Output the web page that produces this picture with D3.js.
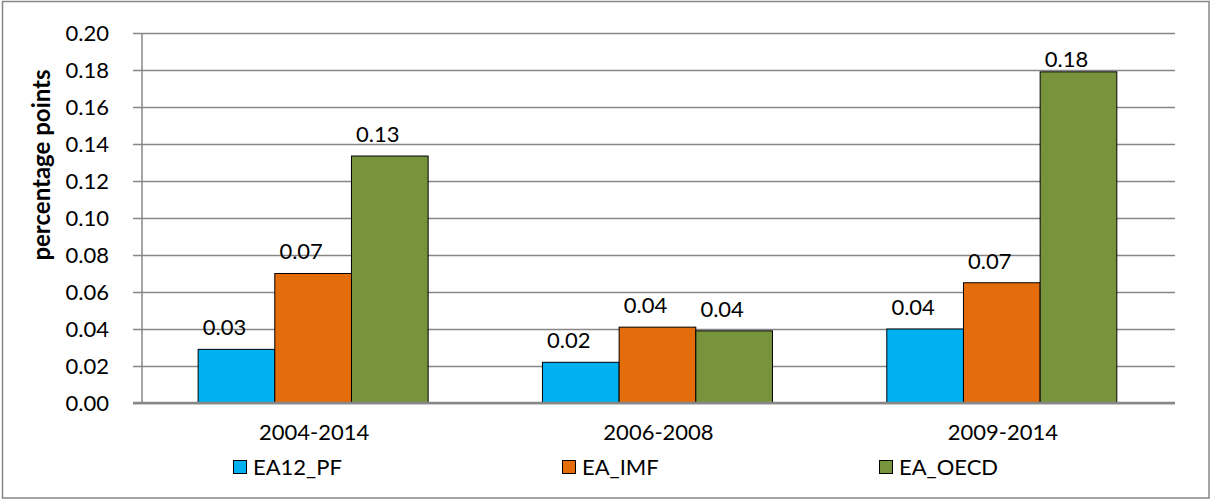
<!DOCTYPE html>
<html>
<head>
<meta charset="utf-8">
<script src="https://cdn.jsdelivr.net/npm/d3@7"></script>
<style>
  html, body { margin: 0; padding: 0; background: #fff; }
  svg { display: block; }
  text { font-family: Lato, "Open Sans", sans-serif; fill: #000; }
</style>
</head>
<body>
<svg id="chart" width="1212" height="500"></svg>
<script>
// ---- data ----
const categories = ["2004-2014", "2006-2008", "2009-2014"];
const seriesNames = ["EA12_PF", "EA_IMF", "EA_OECD"];
const EA12_PF = [0.029, 0.022, 0.040];
const EA_IMF  = [0.070, 0.041, 0.065];
const EA_OECD = [0.1335, 0.039, 0.179];
const dataLabels = [
  ["0.03", "0.02", "0.04"],
  ["0.07", "0.04", "0.07"],
  ["0.13", "0.04", "0.18"]
];
const yTicks = [0, 0.02, 0.04, 0.06, 0.08, 0.10, 0.12, 0.14, 0.16, 0.18, 0.20];
const colors = ["#00B0F0", "#E46C0A", "#77933C"];
const yTitle = "percentage points";

const seriesValues = [EA12_PF, EA_IMF, EA_OECD];

// ---- layout ----
const svg = d3.select("#chart");
const plot = { left: 142, right: 1175, top: 33, bottom: 403 };
const gridColor = "#878787";

svg.append("rect")
  .attr("x", 2.5).attr("y", 1.5)
  .attr("width", 1206.5).attr("height", 496.5)
  .attr("fill", "#fff").attr("stroke", gridColor).attr("stroke-width", 1.5);

const y = d3.scaleLinear().domain([0, 0.20]).range([plot.bottom, plot.top]);
const x0 = d3.scaleBand().domain(categories).range([plot.left, plot.right]).padding(0);
const bw = x0.bandwidth();
const x1 = d3.scaleBand().domain(seriesNames).range([bw * 0.163, bw * 0.831]).padding(0);

// gridlines + y axis
const yAxis = d3.axisLeft(y).tickValues(yTicks).tickFormat(d3.format(".2f"))
  .tickSize(-(plot.right - plot.left)).tickPadding(0);
const gy = svg.append("g").attr("transform", `translate(${plot.left},0)`).call(yAxis);
gy.select(".domain").remove();
gy.selectAll(".tick line")
  .attr("x1", -9)
  .attr("x2", plot.right - plot.left)
  .attr("stroke", gridColor).attr("stroke-width", 1.5);
gy.selectAll(".tick text")
  .attr("x", -33).attr("dy", "0.36em")
  .style("font-family", "Lato, sans-serif")
  .style("font-size", "22px").attr("fill", "#000");

// left axis line
svg.append("line")
  .attr("x1", plot.left).attr("x2", plot.left)
  .attr("y1", plot.top).attr("y2", plot.bottom)
  .attr("stroke", gridColor).attr("stroke-width", 1.5);

// bars
const rows = [];
categories.forEach((c, i) => {
  seriesNames.forEach((s, j) => {
    rows.push({ cat: c, ser: s, v: seriesValues[j][i], label: dataLabels[j][i], color: colors[j] });
  });
});

svg.append("g").selectAll("rect").data(rows).join("rect")
  .attr("x", d => x0(d.cat) + x1(d.ser))
  .attr("y", d => y(d.v))
  .attr("width", x1.bandwidth())
  .attr("height", d => y(0) - y(d.v))
  .attr("fill", d => d.color)
  .attr("stroke", "#000").attr("stroke-width", 1);

// bottom axis line
svg.append("line")
  .attr("x1", plot.left - 9).attr("x2", plot.right)
  .attr("y1", plot.bottom).attr("y2", plot.bottom)
  .attr("stroke", gridColor).attr("stroke-width", 2.5);

// data labels
svg.append("g").selectAll("text").data(rows).join("text")
  .attr("x", d => x0(d.cat) + x1(d.ser) + x1.bandwidth() / 2 - 12)
  .attr("y", d => Math.max(y(d.v) - 22, 59))
  .attr("dy", "0.36em")
  .attr("text-anchor", "middle")
  .style("font-size", "22px")
  .text(d => d.label);

// category labels
svg.append("g").selectAll("text").data(categories).join("text")
  .attr("x", d => x0(d) + bw / 2)
  .attr("y", 432).attr("dy", "0.36em")
  .attr("text-anchor", "middle")
  .style("font-size", "22px")
  .text(d => d);

// y title
svg.append("text")
  .attr("transform", `translate(41,165) rotate(-90)`)
  .attr("text-anchor", "middle").attr("dy", "0.36em")
  .style("font-size", "24px").style("font-weight", "bold")
  .text(yTitle);

// legend
const legendX = d3.scaleOrdinal().domain(seriesNames).range([233, 562, 879]);
const lg = svg.append("g").selectAll("g").data(seriesNames).join("g")
  .attr("transform", d => `translate(${legendX(d)},467)`);
lg.append("rect")
  .attr("x", 0.5).attr("y", -6.5).attr("width", 13).attr("height", 13)
  .attr("fill", (d, i) => colors[i]).attr("stroke", "#000").attr("stroke-width", 1);
lg.append("text")
  .attr("x", 20).attr("dy", "0.36em")
  .style("font-size", "22px")
  .text(d => d);
</script>
</body>
</html>
